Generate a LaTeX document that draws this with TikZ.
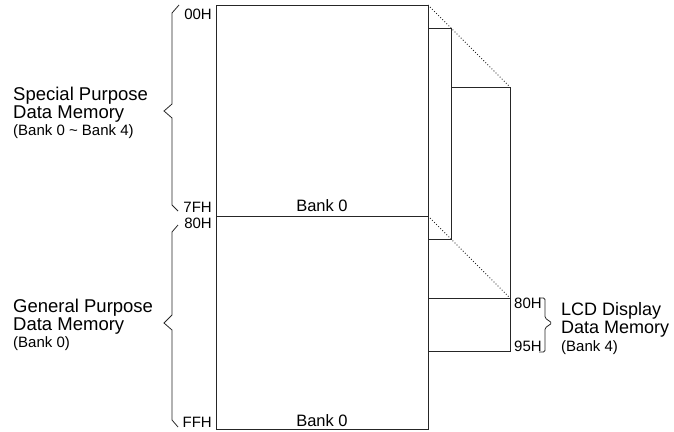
\documentclass[tikz,border=0pt]{standalone}
\usepackage{fontspec}
\setmainfont{Liberation Sans}
\usetikzlibrary{positioning}

\begin{document}
\begin{tikzpicture}[x=1pt,y=-1pt,
 memline/.style={draw=black!85,line width=1pt},
 persp/.style={draw=black!85,dotted,line width=0.9pt},
 brace/.style={draw=black!85,line width=0.8pt},
 addr/.style={font=\fontsize{15}{15}\selectfont,inner sep=0pt},
 region/.style={font=\fontsize{18.5}{17.5}\selectfont,align=left,inner sep=0pt,anchor=north west},
 banklbl/.style={font=\fontsize{16.5}{16.5}\selectfont,inner sep=0pt,anchor=base}]
 \useasboundingbox (0,0) rectangle (674,431);
 % corners of bank 0 and of the banks behind it
 \coordinate (b0top) at (428,5);
 \coordinate (b0mid) at (428,216);
 \coordinate (b1top) at (451,28);
 \coordinate (b1bot) at (451,239);
 \coordinate (b4top) at (510,87);
 \coordinate (b4mid) at (510,298);
 \coordinate (b4bot) at (510,351);
 % bank 4, bank 1, bank 0
 \draw[memline] (451,87)--(b4top)--(b4bot)--(428,351);
 \draw[memline] (428,298)--(b4mid);
 \draw[memline] (428,28)--(b1top)--(b1bot)--(428,239);
 \draw[memline] (216,5) rectangle (428,429);
 \draw[memline] (216,216)--(b0mid);
 \draw[persp] (b0top)--(b4top);
 \draw[persp] (b0mid)--(b4mid);
 % addresses
 \foreach \lbl/\y in {00H/19,7FH/212,80H/228,FFH/427}
   \node[addr,anchor=base east] (a\lbl) at (212,\y) {\lbl};
 \node[addr,anchor=base west] (lcdfirst) at (514,308) {80H};
 \node[addr,anchor=base west] (lcdlast) at (514,351) {95H};
 \node[banklbl] (bankup) at (322,211) {Bank 0};
 \node[banklbl] (banklow) at (322,426) {Bank 0};
 % braces
 \draw[brace] (179,5)--(172,13)--(172,104)--(164,111)--(172,118)--(172,205)--(178,211);
 \draw[brace] (178,225)--(172,232)--(172,315)--(164,323)--(172,330)--(172,420)--(178,427);
 \draw[brace,rounded corners=1.5pt] (539,298)--(545,298)--(545,318)--(552,323)--(545,328)--(545,352)--(539,352);
 % region names
 \node[region] (special) at (13,87) {Special Purpose\\Data Memory\\\fontsize{15}{17.5}\selectfont(Bank 0 \textasciitilde{} Bank 4)};
 \node[region] (general) at (13,299) {General Purpose\\Data Memory\\\fontsize{15}{17.5}\selectfont(Bank 0)};
 \node[region,font=\fontsize{18}{18}\selectfont] (lcd) at (561,302) {LCD Display\\Data Memory\\\fontsize{15}{18}\selectfont(Bank 4)};
\end{tikzpicture}
\end{document}
